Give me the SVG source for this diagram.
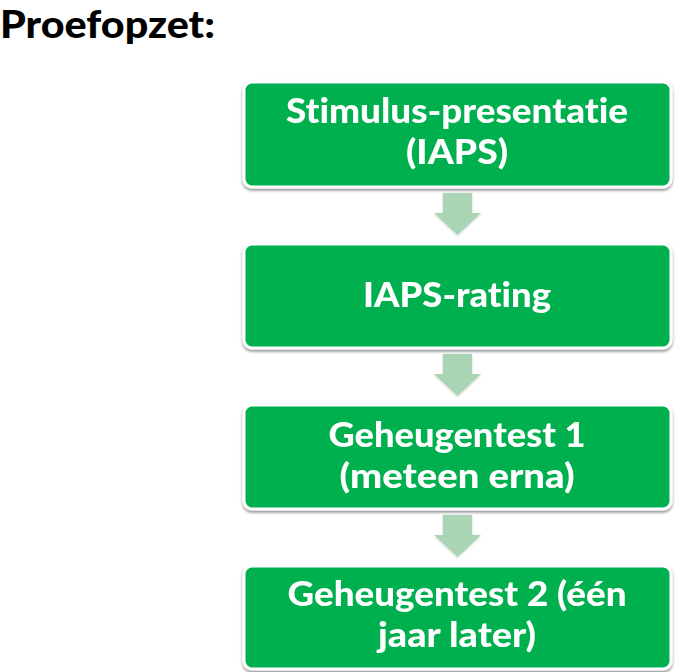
<svg xmlns="http://www.w3.org/2000/svg" width="698" height="672" viewBox="0 0 698 672">
<defs>
<filter id="sh" x="-5%" y="-10%" width="110%" height="125%">
<feGaussianBlur in="SourceAlpha" stdDeviation="1.5"/>
<feOffset dx="0" dy="2" result="b"/>
<feComponentTransfer><feFuncA type="linear" slope="0.45"/></feComponentTransfer>
<feMerge><feMergeNode/><feMergeNode in="SourceGraphic"/></feMerge>
</filter>
<filter id="ash" x="-20%" y="-20%" width="140%" height="150%">
<feGaussianBlur in="SourceAlpha" stdDeviation="1"/>
<feOffset dx="0" dy="1"/>
<feComponentTransfer><feFuncA type="linear" slope="0.2"/></feComponentTransfer>
<feMerge><feMergeNode/><feMergeNode in="SourceGraphic"/></feMerge>
</filter>
</defs>
<style>
.box{fill:#00b050;stroke:#ffffff;stroke-width:3;}
.t{font-family:Lato,"Open Sans","Liberation Sans",sans-serif;font-weight:900;font-size:34px;fill:#ffffff;text-anchor:middle;font-variant-ligatures:none;font-feature-settings:"liga" 0,"dlig" 0;}
.arr{fill:#aad5b5;}
.title{font-family:Lato,"Open Sans","Liberation Sans",sans-serif;font-weight:900;font-size:37px;fill:#000000;}
</style>
<rect width="698" height="672" fill="#ffffff"/>
<text class="title" x="0" y="38" textLength="215" lengthAdjust="spacingAndGlyphs">Proefopzet:</text>
<g id="connectors" filter="url(#ash)">
<polygon class="arr" points="443,193 472,193 472,213 481,213 457.5,235 434,213 443,213"/>
<polygon class="arr" points="443,354 472,354 472,374 481,374 457.5,396 434,374 443,374"/>
<polygon class="arr" points="443,515 472,515 472,535 481,535 457.5,557 434,535 443,535"/>
</g>
<g id="n1" filter="url(#sh)">
<rect class="box" x="244" y="82" width="427" height="105" rx="8"/>
<text class="t" x="457" y="123" textLength="342" lengthAdjust="spacingAndGlyphs">Stimulus-presentatie</text>
<text class="t" x="457" y="164" textLength="102" lengthAdjust="spacingAndGlyphs">(IAPS)</text>
</g>
<g id="n2" filter="url(#sh)">
<rect class="box" x="244" y="244" width="427" height="104" rx="8"/>
<text class="t" x="457" y="307" textLength="188" lengthAdjust="spacingAndGlyphs">IAPS-rating</text>
</g>
<g id="n3" filter="url(#sh)">
<rect class="box" x="244" y="405" width="427" height="104" rx="8"/>
<text class="t" x="457" y="447" textLength="257" lengthAdjust="spacingAndGlyphs">Geheugentest 1</text>
<text class="t" x="457" y="488" textLength="235" lengthAdjust="spacingAndGlyphs">(meteen erna)</text>
</g>
<g id="n4" filter="url(#sh)">
<rect class="box" x="244" y="566" width="427" height="103" rx="8"/>
<text class="t" x="457" y="606" textLength="339" lengthAdjust="spacingAndGlyphs">Geheugentest 2 (één</text>
<text class="t" x="457" y="647" textLength="158" lengthAdjust="spacingAndGlyphs">jaar later)</text>
</g>
</svg>
